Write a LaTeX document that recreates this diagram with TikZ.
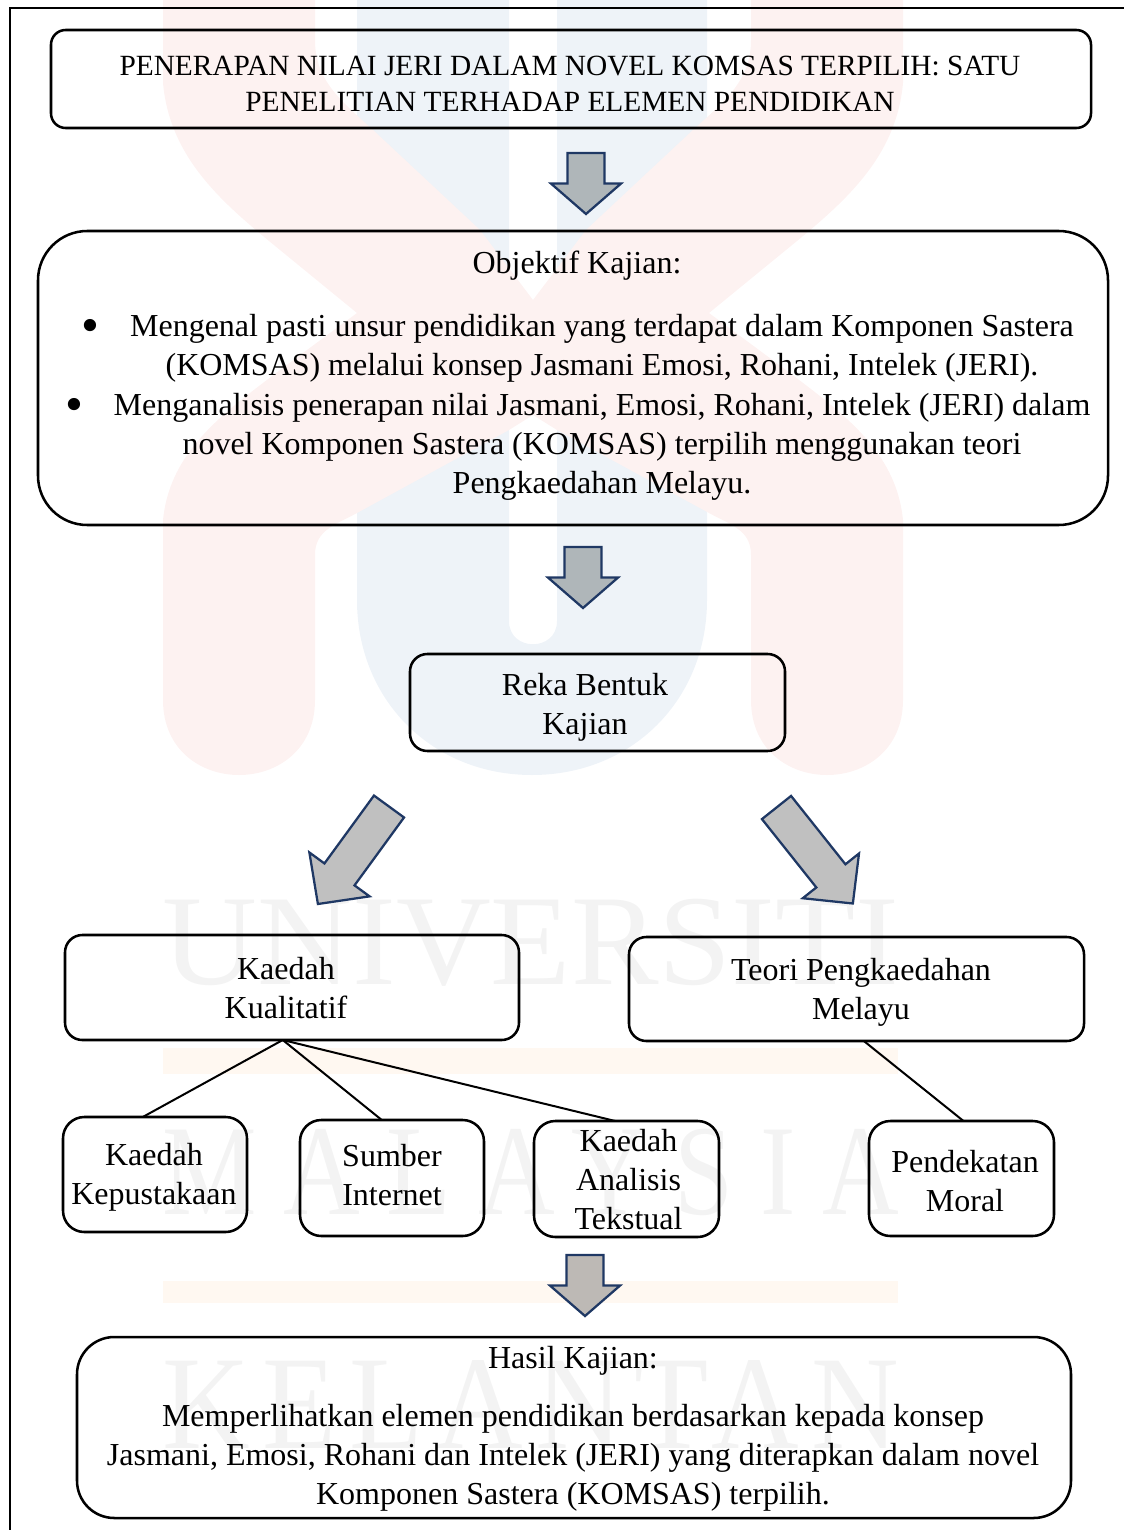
\documentclass[tikz,border=0pt]{standalone}
\usepackage{fontspec}
\setmainfont{Liberation Serif}
\usetikzlibrary{shapes.arrows}
\definecolor{markpink}{HTML}{FDF2F1}
\definecolor{markblue}{HTML}{EEF3F8}
\definecolor{markbar}{HTML}{FFF8F1}
\definecolor{markgrey}{HTML}{F3F3F3}
\definecolor{arrowblue}{HTML}{1F3864}
\definecolor{arrowgrey}{HTML}{AFB6B9}
\definecolor{arrowtan}{HTML}{BDB9B5}
\definecolor{arrowside}{HTML}{C0C0C0}
\newcommand{\bulletmark}{\llap{\raisebox{-4.5pt}{\scalebox{1.6}{\textbullet}}\hspace{23pt}}}
\tikzset{
    box/.style n args={3}{draw, line width=1.9pt, rounded corners=#3, outer sep=0pt,
        minimum width=#1*0.75pt, minimum height=#2*0.75pt},
    lbl/.style={inner sep=0pt, align=center, font=\fontsize{24pt}{29.25pt}\selectfont},
    bigarrow/.style 2 args={single arrow, draw=arrowblue, line width=1.7pt, inner sep=0pt, outer sep=0pt,
        anchor=tail, fill=#2, rotate=#1, single arrow head indent=0pt},
    down/.style={inner ysep=13pt, single arrow head extend=12.5pt, minimum width=51pt, minimum height=45.75pt, single arrow tip angle=98},
    slant/.style={inner ysep=13.1pt, single arrow head extend=14pt, minimum width=54pt, minimum height=90.5pt, single arrow tip angle=91}
}
\begin{document}
\begin{tikzpicture}[x=0.75pt, y=-0.75pt]
    \useasboundingbox (0, 0) rectangle (1124, 1530);
    % watermark
    \fill[markblue] (357, 0) -- (357, 600) .. controls (357, 700) and (432, 775) .. (532, 775)
        .. controls (632, 775) and (707, 700) .. (707, 600) -- (707, 0) -- (557, 0) -- (557, 621)
        .. controls (557, 652) and (509, 652) .. (509, 621) -- (509, 0) -- cycle;
    \fill[markpink] (163, 0) -- (163, 83) .. controls (170, 160) and (225, 205) .. (280, 250) -- (357, 313)
        -- (280, 370) .. controls (225, 412) and (170, 450) .. (163, 520) -- (163, 700)
        .. controls (163, 800) and (315, 800) .. (315, 700) -- (315, 555)
        .. controls (315, 530) and (335, 525) .. (357, 513) -- (509, 430) -- (533, 415) -- (557, 430) -- (709, 513)
        .. controls (731, 525) and (751, 530) .. (751, 555) -- (751, 700)
        .. controls (751, 800) and (903, 800) .. (903, 700) -- (903, 520)
        .. controls (896, 450) and (841, 412) .. (786, 370) -- (709, 313) -- (786, 250)
        .. controls (841, 205) and (896, 160) .. (903, 83) -- (903, 0) -- (751, 0) -- (751, 40)
        .. controls (751, 80) and (726, 100) .. (693, 130) -- (586, 230) -- (533, 300) -- (480, 230) -- (373, 130)
        .. controls (340, 100) and (315, 80) .. (315, 40) -- (315, 0) -- cycle;
    \fill[markbar] (163, 1048) rectangle (898, 1074);
    \fill[markbar] (163, 1281) rectangle (898, 1303);
    \node[inner sep=0pt, text=markgrey] (markuniversiti) at (531, 943) {\resizebox{552pt}{64pt}{UNIVERSITI}};
    \node[inner sep=0pt, text=markgrey] (markmalaysia) at (531, 1172) {\resizebox{552pt}{64pt}{\addfontfeature{LetterSpace=25}MALAYSIA}};
    \node[inner sep=0pt, text=markgrey] (markkelantan) at (531, 1404) {\resizebox{552pt}{66pt}{\addfontfeature{LetterSpace=10}KELANTAN}};
    % page frame
    \draw[line width=1.6pt] (10, 1530) -- (10, 8) -- (1124, 8);
    % boxes
    \node[box={1040}{98}{11pt}] (tajuk) at (571, 79) {};
    \node[box={1070}{294}{37pt}] (objektif) at (573, 378) {};
    \node[box={375}{97}{13pt}] (reka) at (597.5, 702.5) {};
    \node[box={454}{105}{13pt}] (kualitatif) at (292, 987.5) {};
    \node[box={455}{104}{13pt}] (teori) at (856.5, 989) {};
    \node[box={184}{115}{16pt}] (kepustakaan) at (155, 1174.5) {};
    \node[box={184}{116}{16pt}] (internet) at (392, 1178) {};
    \node[box={185}{116}{16pt}] (tekstual) at (626.5, 1179) {};
    \node[box={185}{115}{16pt}] (moral) at (961.5, 1178.5) {};
    \node[box={994}{181}{28pt}] (hasil) at (574, 1427.5) {};
    % labels
    \node[lbl, font=\fontsize{22pt}{27pt}\selectfont] (tajuktext) at (570, 84) {PENERAPAN NILAI JERI DALAM NOVEL KOMSAS TERPILIH: SATU\\PENELITIAN TERHADAP ELEMEN PENDIDIKAN};
    \node[lbl] (objektiftitle) at (577, 266) {Objektif Kajian:};
    \node[lbl] (objektiftext) at (602, 407.5) {\bulletmark Mengenal pasti unsur pendidikan yang terdapat dalam Komponen Sastera\\(KOMSAS) melalui konsep Jasmani Emosi, Rohani, Intelek (JERI).\\[1pt]\bulletmark Menganalisis penerapan nilai Jasmani, Emosi, Rohani, Intelek (JERI) dalam\\novel Komponen Sastera (KOMSAS) terpilih menggunakan teori\\Pengkaedahan Melayu.};
    \node[lbl] (rekatext) at (585, 707) {Reka Bentuk\\Kajian};
    \node[lbl] (kualitatiftext) at (286, 988) {Kaedah\\Kualitatif};
    \node[lbl] (teoritext) at (861, 992) {Teori Pengkaedahan\\Melayu};
    \node[lbl] (kepustakaantext) at (154, 1177) {Kaedah\\Kepustakaan};
    \node[lbl] (internettext) at (392, 1175) {Sumber\\Internet};
    \node[lbl] (tekstualtext) at (628.5, 1180) {Kaedah\\Analisis\\Tekstual};
    \node[lbl] (moraltext) at (965, 1181) {Pendekatan\\Moral};
    \node[lbl] (hasiltext) at (573, 1429) {Hasil Kajian:\\[14.25pt]Memperlihatkan elemen pendidikan berdasarkan kepada konsep\\Jasmani, Emosi, Rohani dan Intelek (JERI) yang diterapkan dalam novel\\Komponen Sastera (KOMSAS) terpilih.};
    % block arrows
    \node[bigarrow={270}{arrowgrey}, down] (panah1) at (586, 153) {};
    \node[bigarrow={270}{arrowgrey}, down] (panah2) at (583, 547) {};
    \node[bigarrow={270}{arrowtan}, down] (panah3) at (585, 1255) {};
    \node[bigarrow={233.9}{arrowside}, slant] (panahkiri) at (389, 806.5) {};
    \node[bigarrow={-51.5}{arrowside}, slant, minimum width=52pt, single arrow head extend=13pt, minimum height=92pt] (panahkanan) at (776.5, 807.5) {};
    % connectors
    \draw[line width=1.5pt] (kualitatif.260) -- (kepustakaan.102);
    \draw[line width=1.5pt] (kualitatif.260) -- (internet.100);
    \draw[line width=1.5pt] (kualitatif.260) -- (tekstual.101);
    \draw[line width=1.5pt] (teori.278) -- (moral.88);
\end{tikzpicture}
\end{document}
